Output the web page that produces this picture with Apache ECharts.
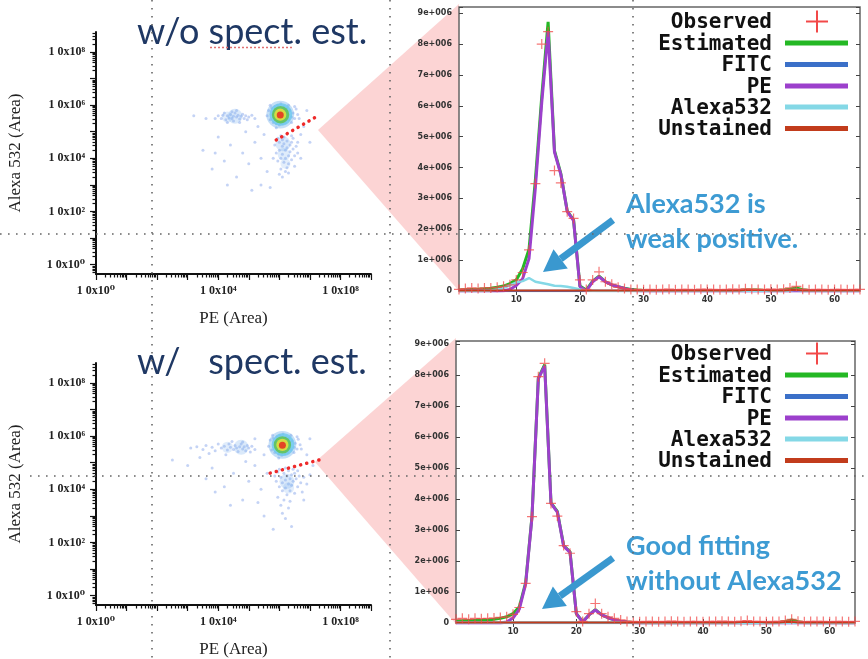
<!DOCTYPE html>
<html>
<head>
<meta charset="utf-8">
<script src="https://cdn.jsdelivr.net/npm/echarts@6/dist/echarts.min.js"></script>
<style>
html, body { margin: 0; padding: 0; background: #fff; }
#main { width: 868px; height: 659px; }
</style>
</head>
<body>
<div id="main"></div>
<script>
// ---- data (spectra in units of 1e6, cytometry in log10 of area) ----
var seriesNames = ['Observed', 'Estimated', 'FITC', 'PE', 'Alexa532', 'Unstained'];
var channels = [];
for (var c = 1; c <= 64; c++) channels.push(c);

var topObserved = [0.05,0.08,0.1,0.08,0.1,0.1,0.12,0.15,0.2,0.36,
  0.6,1.33,3.48,8.0,8.4,3.9,3.5,2.57,2.35,0.36,
  0.05,0.36,0.62,0.3,0.22,0.12,0.08,0.05,0.05,0.04,
  0.05,0.04,0.05,0.06,0.04,0.05,0.05,0.04,0.06,0.05,
  0.05,0.04,0.05,0.06,0.05,0.07,0.06,0.05,0.05,0.06,
  0.05,0.06,0.1,0.15,0.06,0.04,0.05,0.05,0.04,0.05,
  0.05,0.04,0.05,0.05];
var topEstimated = [0.03,0.04,0.05,0.06,0.07,0.09,0.12,0.16,0.24,0.36,
  0.72,1.35,3.6,6.3,8.72,4.55,3.8,2.6,2.3,0.16,
  0.03,0.32,0.48,0.3,0.2,0.14,0.09,0.05,0.03,0.02,
  0.02,0.02,0.02,0.02,0.02,0.02,0.02,0.02,0.02,0.02,
  0.02,0.02,0.02,0.02,0.02,0.03,0.03,0.03,0.02,0.02,
  0.02,0.03,0.06,0.1,0.04,0.02,0.02,0.02,0.02,0.02,
  0.02,0.02,0.02,0.02];
var topFITC = [0,0,0,0,0,0,0,0,0,0, 0,0,0,0,0,0,0,0,0,0, 0,0,0,0,0,0,0,0,0,0,
  0,0,0,0,0,0,0,0,0,0, 0,0,0,0,0,0,0,0,0,0, 0,0,0,0,0,0,0,0,0,0, 0,0,0,0];
var topPE = [0,0,0,0,0,0,0,0.01,0.05,0.18,
  0.4,1.05,3.35,6.1,8.4,4.5,3.78,2.58,2.28,0.14,
  0,0.3,0.46,0.3,0.2,0.14,0.08,0.03,0.01,0,
  0,0,0,0,0,0,0,0,0,0, 0,0,0,0,0,0,0,0,0,0, 0,0,0,0,0,0,0,0,0,0, 0,0,0,0];
var topAlexa = [0,0,0,0,0.01,0.02,0.05,0.1,0.18,0.28,
  0.32,0.42,0.3,0.26,0.22,0.17,0.16,0.14,0.1,0.05,
  0.02,0.01,0,0,0,0,0,0,0,0,
  0,0,0,0,0,0,0,0,0,0, 0,0,0,0,0,0,0,0,0,0,
  0,0,0.02,0.04,0.01,0,0,0,0,0, 0,0,0,0];
var topUnstained = [0.02,0.02,0.02,0.02,0.02,0.02,0.02,0.02,0.02,0.02,
  0.02,0.02,0.02,0.02,0.02,0.02,0.02,0.02,0.02,0.02,
  0.02,0.02,0.02,0.02,0.02,0.02,0.02,0.02,0.02,0.02,
  0.02,0.02,0.02,0.02,0.02,0.02,0.02,0.02,0.02,0.02,
  0.02,0.02,0.02,0.02,0.02,0.03,0.03,0.03,0.03,0.02,
  0.02,0.02,0.03,0.04,0.02,0.02,0.02,0.02,0.02,0.02,
  0.02,0.02,0.02,0.02];

var bottomObserved = [0.12,0.15,0.12,0.15,0.14,0.15,0.16,0.18,0.2,0.28,
  0.5,1.28,3.43,7.95,8.38,3.86,3.45,2.5,2.25,0.37,
  0.05,0.3,0.63,0.3,0.2,0.15,0.1,0.05,0.05,0.04,
  0.05,0.05,0.04,0.05,0.06,0.05,0.04,0.05,0.05,0.04,
  0.05,0.05,0.06,0.05,0.04,0.06,0.08,0.05,0.05,0.04,
  0.05,0.05,0.08,0.12,0.06,0.04,0.05,0.05,0.05,0.04,
  0.05,0.05,0.04,0.05];
var bottomEstimated = [0.06,0.07,0.08,0.08,0.09,0.1,0.12,0.15,0.2,0.3,
  0.52,1.3,3.45,7.9,8.34,3.88,3.6,2.5,2.3,0.3,
  0.04,0.26,0.43,0.26,0.17,0.1,0.06,0.03,0.02,0.01,
  0.01,0.01,0.01,0.01,0.01,0.01,0.01,0.01,0.01,0.01,
  0.01,0.01,0.01,0.01,0.01,0.01,0.02,0.01,0.01,0.01,
  0.01,0.02,0.05,0.1,0.04,0.01,0.01,0.01,0.01,0.01,
  0.01,0.01,0.01,0.01];
var bottomFITC = [0,0,0,0,0,0,0,0,0,0, 0,0,0,0,0,0,0,0,0,0, 0,0,0,0,0,0,0,0,0,0,
  0,0,0,0,0,0,0,0,0,0, 0,0,0,0,0,0,0,0,0,0, 0,0,0,0,0,0,0,0,0,0, 0,0,0,0];
var bottomPE = [0,0,0,0,0,0,0,0,0.03,0.16,
  0.45,1.26,3.42,7.88,8.3,3.86,3.58,2.48,2.28,0.3,
  0.03,0.26,0.42,0.26,0.17,0.1,0.06,0.03,0.01,0,
  0,0,0,0,0,0,0,0,0,0, 0,0,0,0,0,0,0,0,0,0, 0,0,0,0,0,0,0,0,0,0, 0,0,0,0];
var bottomAlexa = [0.02,0.02,0.02,0.02,0.02,0.02,0.02,0.02,0.02,0.02,
  0.02,0.02,0.02,0.02,0.02,0.02,0.02,0.02,0.02,0.02,
  0.02,0.02,0.02,0.02,0.02,0.02,0.02,0.02,0.02,0.02,
  0.01,0.01,0.01,0.01,0.01,0.01,0.01,0.01,0.01,0.01,
  0.01,0.01,0.01,0.01,0.01,0.01,0.01,0.01,0.01,0.01,
  0.01,0.01,0.01,0.02,0.01,0.01,0.01,0.01,0.01,0.01,
  0.01,0.01,0.01,0.01];
var bottomUnstained = topUnstained.slice();

// flow cytometry dots: [log10 PE, log10 Alexa532]
var topCells = [
  [4.0,5.6],[4.1,5.5],[4.2,5.7],[4.25,5.45],[4.3,5.6],[4.35,5.52],[4.4,5.65],[4.45,5.5],[4.5,5.58],[4.5,5.4],
  [4.55,5.7],[4.6,5.55],[4.65,5.62],[4.7,5.48],[4.75,5.58],[4.8,5.66],[4.85,5.5],[4.9,5.6],[4.95,5.45],[5.0,5.55],
  [5.1,5.62],[4.3,5.35],[4.6,5.8],[3.9,5.5],[5.2,5.5],[4.45,5.75],[4.7,5.35],[4.15,5.62],
  [5.6,5.6],[5.65,5.8],[5.7,5.45],[5.75,5.9],[5.8,5.35],[5.8,5.7],[5.85,5.95],[5.9,5.3],[5.95,6.0],[6.0,5.25],
  [6.05,6.05],[6.1,5.3],[6.15,5.95],[6.2,5.35],[6.25,5.9],[6.3,5.45],[6.35,5.8],[6.4,5.55],[6.45,5.7],[6.5,5.5],
  [6.55,5.85],[6.6,5.65],[6.3,6.0],[5.7,6.0],[6.4,5.35],[5.9,5.15],[6.5,5.95],[6.65,5.5],
  [5.85,4.5],[5.9,4.2],[5.95,3.9],[6.0,4.6],[6.0,4.3],[6.05,4.0],[6.05,3.6],[6.1,4.7],[6.1,4.45],[6.1,4.15],
  [6.15,3.85],[6.15,4.55],[6.2,4.3],[6.2,4.0],[6.2,3.5],[6.25,4.65],[6.25,4.4],[6.3,4.1],[6.3,3.8],[6.35,4.5],
  [6.35,4.25],[6.4,3.95],[6.4,4.6],[6.45,4.35],[6.5,4.1],[6.5,3.7],[6.55,4.45],[6.6,4.2],[5.95,4.75],[6.0,3.4],
  [6.1,3.3],[6.3,3.45],[6.15,4.8],[6.45,4.75],[5.8,4.0],[6.25,3.65],[6.05,4.85],[6.4,4.85],[6.6,4.6],[6.7,4.9],
  [3.5,4.3],[3.8,3.6],[4.0,4.8],[4.2,3.9],[4.4,4.5],[4.6,3.3],[4.8,4.2],[5.0,3.8],[5.2,4.6],[5.4,4.0],
  [5.3,5.2],[5.5,4.9],[3.2,5.6],[3.6,5.5],[4.9,5.0],[5.6,3.5],[6.8,5.2],[7.0,4.6],[6.9,5.8],[5.4,3.0],
  [4.3,3.0],[3.9,4.2],[6.7,4.0],[5.1,2.8],[5.7,2.9]
];
var bottomCells = [
  [3.1,5.55],[3.3,5.6],[3.5,5.5],[3.6,5.65],[3.8,5.58],[3.9,5.45],[4.0,5.7],[4.1,5.55],[4.2,5.62],[4.3,5.48],
  [4.35,5.7],[4.4,5.58],[4.5,5.5],[4.55,5.65],[4.6,5.55],[4.65,5.42],[4.7,5.6],[4.75,5.7],[4.8,5.52],[4.85,5.6],
  [4.9,5.45],[4.95,5.65],[5.0,5.55],[5.05,5.4],[5.1,5.62],[5.2,5.5],[4.45,5.8],[3.7,5.35],[4.25,5.3],[4.8,5.78],
  [5.65,5.62],[5.7,5.85],[5.75,5.48],[5.8,5.92],[5.85,5.38],[5.88,5.75],[5.92,5.98],[5.98,5.32],[6.02,6.03],[6.08,5.28],
  [6.12,6.08],[6.18,5.33],[6.22,5.98],[6.28,5.38],[6.32,5.93],[6.38,5.48],[6.42,5.83],[6.48,5.58],[6.52,5.73],[6.58,5.52],
  [6.62,5.88],[6.68,5.68],[6.38,6.03],[5.78,6.03],[6.48,5.38],[5.98,5.18],[6.58,5.98],[6.72,5.52],
  [5.85,4.5],[5.9,4.3],[5.95,4.65],[6.0,4.1],[6.05,4.45],[6.1,4.25],[6.1,3.95],[6.15,4.6],[6.2,4.35],[6.2,4.05],
  [6.25,4.5],[6.25,3.8],[6.3,4.2],[6.3,4.7],[6.35,4.4],[6.35,3.95],[6.4,4.55],[6.4,4.15],[6.45,4.3],[6.5,4.6],
  [6.5,3.85],[6.55,4.4],[6.6,4.1],[6.65,4.5],[6.7,4.25],[6.8,4.45],[6.9,4.2],[7.0,4.55],[6.15,3.6],[6.05,3.4],
  [6.1,3.1],[6.2,2.9],[6.3,3.3],[5.95,3.7],[6.45,4.75],[6.6,4.7],[6.0,4.75],[6.75,3.9],[6.35,3.55],[6.2,4.8],
  [2.5,5.1],[3.0,4.9],[3.4,5.2],[3.8,4.8],[4.2,4.1],[4.5,4.6],[4.8,3.6],[5.0,4.3],[5.2,4.9],[5.4,4.0],
  [5.5,5.3],[5.6,4.6],[3.6,4.4],[4.9,5.05],[5.3,3.5],[6.9,5.3],[7.1,4.9],[7.0,5.9],[5.5,3.0],[4.4,3.4],
  [3.9,3.9],[6.8,3.6],[5.8,2.5],[6.4,2.6],[5.2,5.9]
];
// density levels: [log10 PE, log10 Alexa532, level]
var topDensity = [[4.55,5.58,0.6],[4.3,5.55,0.45],[6.12,4.55,0.6],[6.15,4.15,0.5],[6.2,3.8,0.4],
  [6.03,5.64,1],[6.05,5.65,2],[6.04,5.64,3],[6.03,5.64,4],[6.03,5.63,5]];
var bottomDensity = [[4.75,5.58,0.6],[4.3,5.58,0.45],[6.25,4.3,0.6],[6.3,4.05,0.45],
  [6.1,5.67,1],[6.12,5.68,2],[6.1,5.67,3],[6.1,5.67,4],[6.1,5.66,5]];
var topGate = [[5.90,4.69],[7.25,5.59]];
var bottomGate = [[5.70,4.61],[7.41,5.14]];

var decadesX = [0,1,2,3,4,5,6,7,8,9];
var decadesY = [0,1,2,3,4,5,6,7,8];
var labelX = [0,4,8];
var labelY = [0,2,4,6,8];

// ---- styling ----
var colors = ['#f24848', '#24b824', '#3b70c8', '#9c40cc', '#84d8e6', '#c23c1c'];
var serif = "'Liberation Serif','DejaVu Serif',serif";
var mono = "'DejaVu Sans Mono',monospace";
var sup = ['\u2070','\u00b9','\u00b2','\u00b3','\u2074','\u2075','\u2076','\u2077','\u2078','\u2079'];
var crossPath = 'path://M4.4,0h1.2v4.4h4.4v1.2h-4.4v4.4h-1.2v-4.4h-4.4v-1.2h4.4z';

function minorTicks(lo, hi) {
  var t = [];
  for (var d = Math.floor(lo); d < hi; d++) {
    for (var k = 2; k < 10; k++) {
      var v = d + Math.log10(k);
      if (v > lo && v < hi) t.push(v);
    }
  }
  return t;
}

function cytoX(g, main) {
  return {
    type: 'value', gridIndex: g, min: 0, max: 9, position: 'bottom',
    name: main ? 'PE (Area)' : '', nameLocation: 'middle', nameGap: 36,
    nameTextStyle: { fontFamily: serif, fontSize: 17, color: '#222' },
    axisLine: { show: main, onZero: false, lineStyle: { color: '#111', width: 2 } },
    axisTick: { show: true, customValues: main ? decadesX : minorTicks(0, 9), length: main ? 6 : 3.5, lineStyle: { color: '#111', width: 1.2 } },
    axisLabel: { show: main, customValues: labelX, margin: 11, fontFamily: serif, fontSize: 12, fontWeight: 'bold', color: '#222',
      formatter: function (v) { return '1 0x10' + sup[Math.round(v)]; } },
    splitLine: { show: false }
  };
}
function cytoY(g, main) {
  return {
    type: 'value', gridIndex: g, min: -0.35, max: 8.75, position: 'left',
    name: main ? 'Alexa 532 (Area)' : '', nameLocation: 'middle', nameGap: 72,
    nameTextStyle: { fontFamily: serif, fontSize: 17, color: '#222' },
    axisLine: { show: main, onZero: false, lineStyle: { color: '#111', width: 2 } },
    axisTick: { show: true, customValues: main ? decadesY : minorTicks(-0.35, 8.75), length: main ? 6 : 3.5, lineStyle: { color: '#111', width: 1.2 } },
    axisLabel: { show: main, customValues: labelY, margin: 11, fontFamily: serif, fontSize: 12, fontWeight: 'bold', color: '#222',
      formatter: function (v) { return '1 0x10' + sup[Math.round(v)]; } },
    splitLine: { show: false }
  };
}
function every10(i) { return (i + 1) % 10 === 0; }
function specX(g, top) {
  return {
    type: 'category', gridIndex: g, data: channels, boundaryGap: false, position: top ? 'top' : 'bottom',
    axisLine: { show: false },
    axisTick: { show: true, inside: true, length: 4, interval: every10, lineStyle: { color: '#444' } },
    axisLabel: { show: !top, interval: every10, margin: 5, fontFamily: 'DejaVu Sans', fontSize: 8, fontWeight: 'bold', color: '#333' },
    splitLine: { show: false }
  };
}
function specY(g, right, max) {
  return {
    type: 'value', gridIndex: g, min: 0, max: max, interval: 1, position: right ? 'right' : 'left',
    axisLine: { show: false },
    axisTick: { show: true, inside: true, length: 4, lineStyle: { color: '#444' } },
    axisLabel: { show: !right, margin: 7, fontFamily: 'DejaVu Sans', fontSize: 8, fontWeight: 'bold', color: '#333',
      formatter: function (v) {
        if (v === 0) return '0';
        return Math.abs(v - Math.round(v)) < 1e-6 ? Math.round(v) + 'e+006' : '';
      } },
    splitLine: { show: false }
  };
}

function cytoSeries(cells, density, gate, xi, yi) {
  return [{
    type: 'scatter', xAxisIndex: xi, yAxisIndex: yi, data: cells, symbolSize: 3, silent: true,
    itemStyle: { color: 'rgba(80,125,225,0.42)' }, z: 3
  }, {
    type: 'scatter', xAxisIndex: xi, yAxisIndex: yi, data: density, silent: true, z: 4,
    symbolSize: function (v) { return v[2] >= 1 ? 33 - 5.2 * v[2] : 25 * v[2]; }
  }, {
    type: 'line', xAxisIndex: xi, yAxisIndex: yi, data: gate, symbol: 'none', silent: true, z: 5,
    lineStyle: { color: '#ee2a2a', width: 3.5, type: [0.1, 6.2], cap: 'round' }
  }];
}

function specSeries(obs, lines, xi, yi) {
  var out = [];
  var widths = [3, 2.5, 3, 2.5, 2];
  lines.forEach(function (d, i) {
    out.push({
      name: seriesNames[i + 1], type: 'line', xAxisIndex: xi, yAxisIndex: yi, data: d,
      symbol: 'none', silent: true, z: 3 + i,
      lineStyle: { color: colors[i + 1], width: widths[i] }
    });
  });
  out.push({
    name: seriesNames[0], type: 'scatter', xAxisIndex: xi, yAxisIndex: yi, data: obs,
    symbol: crossPath, symbolSize: 10, silent: true, z: 10,
    itemStyle: { color: colors[0], opacity: 0.75 }
  });
  return out;
}

function legendGraphics(rowY, textRight, x1, x2, crossX) {
  var els = [];
  seriesNames.forEach(function (n, i) {
    var y = rowY[i];
    els.push({ type: 'text', x: textRight, y: y + 1.5, z: 60,
      style: { text: n, fill: '#111', font: 'bold 21px ' + mono, textAlign: 'right', textVerticalAlign: 'middle' } });
    if (i === 0) {
      els.push({ type: 'line', z: 60, shape: { x1: crossX - 11, y1: y, x2: crossX + 11, y2: y }, style: { stroke: colors[0], lineWidth: 2 } });
      els.push({ type: 'line', z: 60, shape: { x1: crossX, y1: y - 11, x2: crossX, y2: y + 11 }, style: { stroke: colors[0], lineWidth: 2 } });
    } else {
      els.push({ type: 'line', z: 60, shape: { x1: x1, y1: y, x2: x2, y2: y }, style: { stroke: colors[i], lineWidth: 5 } });
    }
  });
  return els;
}

function arrow(tail, tip) {
  var dx = tip[0] - tail[0], dy = tip[1] - tail[1];
  var len = Math.sqrt(dx * dx + dy * dy);
  var ux = dx / len, uy = dy / len, nx = -uy, ny = ux;
  var bx = tip[0] - 22 * ux, by = tip[1] - 22 * uy;
  return [
    { type: 'line', z: 55, shape: { x1: tail[0], y1: tail[1], x2: bx, y2: by }, style: { stroke: '#3a98cf', lineWidth: 7 } },
    { type: 'polygon', z: 55, shape: { points: [[tip[0], tip[1]], [bx + 12 * nx, by + 12 * ny], [bx - 12 * nx, by - 12 * ny]] }, style: { fill: '#3a98cf' } }
  ];
}

function guide(x1, y1, x2, y2) {
  return { type: 'line', z: 100, silent: true, shape: { x1: x1, y1: y1, x2: x2, y2: y2 },
    style: { stroke: '#666', lineWidth: 1.6, lineDash: [1.6, 6.4] } };
}

var chart = echarts.init(document.getElementById('main'));

var graphics = [
  { type: 'polygon', z: -1, shape: { points: [[318, 130], [459, 4], [459, 291]] }, style: { fill: '#fcd4d4' } },
  { type: 'polygon', z: -1, shape: { points: [[315, 462], [456, 338], [456, 624]] }, style: { fill: '#fcd4d4' } },
  { type: 'text', x: 137, y: 32, z: 50, style: { text: 'w/o spect. est.', fill: '#1f3864', font: '36px Lato', textVerticalAlign: 'middle' } },
  { type: 'line', z: 50, shape: { x1: 210, y1: 47.5, x2: 293, y2: 47.5 }, style: { stroke: '#e07070', lineWidth: 1.3, lineDash: [2, 2] } },
  { type: 'text', x: 137, y: 362, z: 50, style: { text: 'w/   spect. est.', fill: '#1f3864', font: '36px Lato', textVerticalAlign: 'middle' } },
  { type: 'text', x: 626, y: 187, z: 50, style: { text: 'Alexa532 is\nweak positive.', fill: '#3d9bd3', font: 'bold 27px Lato', lineHeight: 35, textVerticalAlign: 'top' } },
  { type: 'text', x: 626, y: 528.5, z: 50, style: { text: 'Good fitting\nwithout Alexa532', fill: '#3d9bd3', font: 'bold 27px Lato', lineHeight: 35, textVerticalAlign: 'top' } }
];
graphics = graphics.concat(arrow([613, 220], [543, 272]), arrow([613, 558], [542, 609]));
graphics = graphics.concat(legendGraphics([21.5, 43, 64.5, 86, 107, 128.5], 772, 785, 848, 817));
graphics = graphics.concat(legendGraphics([353.5, 375, 396.5, 418, 439, 460.5], 772, 785, 848, 817));
graphics = graphics.concat([
  guide(152, 0, 152, 659), guide(390, 0, 390, 659), guide(633, 0, 633, 659),
  guide(0, 234, 868, 234), guide(30, 476, 868, 476)
]);

var option = {
  animation: false,
  backgroundColor: '#fff',
  grid: [
    { left: 96, top: 32, width: 275, height: 242 },
    { left: 96, top: 363, width: 275, height: 242 },
    { left: 459, top: 7, width: 401, height: 284, show: true, borderColor: '#666', borderWidth: 1.5, backgroundColor: '#fff' },
    { left: 456, top: 341, width: 399, height: 282, show: true, borderColor: '#666', borderWidth: 1.5, backgroundColor: '#fff' }
  ],
  xAxis: [cytoX(0, true), cytoX(0, false), cytoX(1, true), cytoX(1, false),
    specX(2, false), specX(2, true), specX(3, false), specX(3, true)],
  yAxis: [cytoY(0, true), cytoY(0, false), cytoY(1, true), cytoY(1, false),
    specY(2, false, 9.2), specY(2, true, 9.2), specY(3, false, 9.1), specY(3, true, 9.1)],
  visualMap: {
    type: 'continuous', show: false, seriesIndex: [1, 4], dimension: 2, min: 0, max: 5,
    inRange: { color: ['rgba(150,185,240,0.15)', 'rgba(110,175,235,0.5)', '#6cc8ee', '#5cc247', '#f0e23a', '#e61e1e'] }
  },
  series: [].concat(
    cytoSeries(topCells, topDensity, topGate, 0, 0),
    cytoSeries(bottomCells, bottomDensity, bottomGate, 2, 2),
    specSeries(topObserved, [topEstimated, topFITC, topPE, topAlexa, topUnstained], 4, 4),
    specSeries(bottomObserved, [bottomEstimated, bottomFITC, bottomPE, bottomAlexa, bottomUnstained], 6, 6)
  ),
  graphic: { elements: graphics }
};
chart.setOption(option);
</script>
</body>
</html>
